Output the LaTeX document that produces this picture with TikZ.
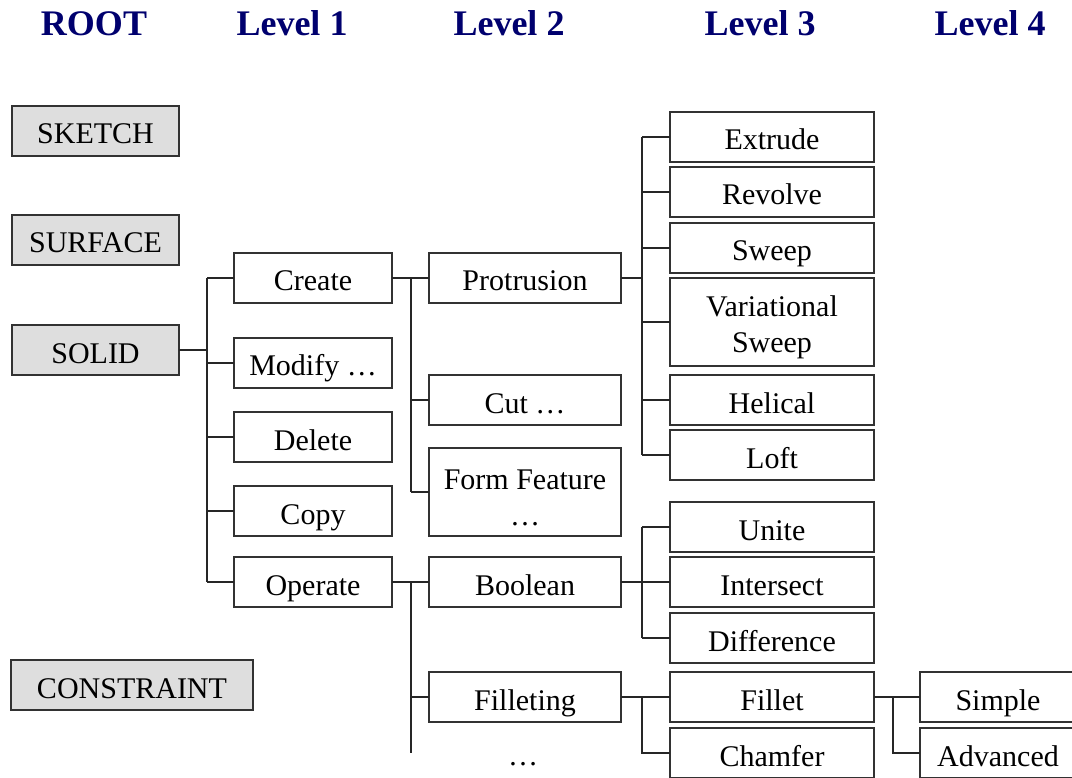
\documentclass[tikz,border=0pt]{standalone}
\usepackage{fontspec}
\setmainfont{Liberation Serif}
\definecolor{navy}{RGB}{0,0,110}
\definecolor{rootfill}{RGB}{222,222,222}
\definecolor{boxline}{RGB}{50,50,50}
\newcommand{\topstrut}{\rule{0pt}{31pt}}
\begin{document}
\begin{tikzpicture}[x=1pt,y=-1pt,
  box/.style={draw=boxline, line width=1.3pt, inner sep=0pt, outer sep=0pt,
    font=\fontsize{30}{36}\selectfont, text height=31pt, text depth=5pt,
    minimum height=50pt},
  tallbox/.style={draw=boxline, line width=1.3pt, inner sep=0pt, outer sep=0pt,
    font=\fontsize{30}{36}\selectfont, align=center, minimum height=88pt},
  rootbox/.style={box, fill=rootfill},
  lvz/.style={minimum width=167pt},
  lva/.style={minimum width=158pt},
  lvb/.style={minimum width=192pt},
  lvc/.style={minimum width=204pt},
  lvd/.style={minimum width=156pt},
  head/.style={font=\fontsize{36}{40}\selectfont\bfseries, text=navy,
    anchor=base, inner sep=0pt},
  link/.style={line width=1.3pt, draw=black!85}
]
\useasboundingbox (0,0) rectangle (1072,778);
\clip (0,0) rectangle (1072,778);

% column headings
\node[head] (hroot) at (94,36) {ROOT};
\node[head] (hone) at (292,36) {Level 1};
\node[head] (htwo) at (509,36) {Level 2};
\node[head] (hthree) at (760,36) {Level 3};
\node[head] (hfour) at (990,36) {Level 4};

% root modules
\node[rootbox, lvz] (sketch) at (95.5,131) {SKETCH};
\node[rootbox, lvz] (surface) at (95.5,240) {SURFACE};
\node[rootbox, lvz] (solid) at (95.5,350) {SOLID};
\node[rootbox, minimum width=242pt] (constraint) at (132,685) {CONSTRAINT};

% level 1
\node[box, lva] (create) at (313,278) {Create};
\node[box, lva] (modify) at (313,363) {Modify …};
\node[box, lva] (delete) at (313,437) {Delete};
\node[box, lva] (copy) at (313,511) {Copy};
\node[box, lva] (operate) at (313,582) {Operate};

% level 2
\node[box, lvb] (protrusion) at (525,278) {Protrusion};
\node[box, lvb] (cut) at (525,400) {Cut …};
\node[tallbox, lvb] (formfeature) at (525,492) {\topstrut Form Feature\\…};
\node[box, lvb] (boolean) at (525,582) {Boolean};
\node[box, lvb] (filleting) at (525,697) {Filleting};
\node[font=\fontsize{30}{36}\selectfont, anchor=base, inner sep=0pt] (more) at (523,765) {…};

% level 3
\node[box, lvc] (extrude) at (772,137) {Extrude};
\node[box, lvc] (revolve) at (772,192) {Revolve};
\node[box, lvc] (sweep) at (772,248) {Sweep};
\node[tallbox, lvc] (varsweep) at (772,322) {\topstrut Variational\\Sweep};
\node[box, lvc] (helical) at (772,400) {Helical};
\node[box, lvc] (loft) at (772,455) {Loft};
\node[box, lvc] (unite) at (772,527) {Unite};
\node[box, lvc] (intersect) at (772,582) {Intersect};
\node[box, lvc] (difference) at (772,638) {Difference};
\node[box, lvc] (fillet) at (772,697) {Fillet};
\node[box, lvc] (chamfer) at (772,753) {Chamfer};

% level 4
\node[box, lvd] (simple) at (998,697) {Simple};
\node[box, lvd] (advanced) at (998,753) {Advanced};

% trunk positions
\coordinate (ta) at (207,0);
\coordinate (tb) at (411,0);
\coordinate (tc) at (642,0);
\coordinate (td) at (893,0);
\coordinate (tbend) at (411,753);

% SOLID -> level 1
\draw[link] (solid.east) -- (solid.east -| ta);
\draw[link] (create.west -| ta) -- (operate.west -| ta);
\foreach \n in {create,modify,delete,copy,operate}
  \draw[link] (\n.west -| ta) -- (\n.west);

% Create -> level 2
\draw[link] (create.east) -- (protrusion.west);
\draw[link] (protrusion.west -| tb) -- (formfeature.west -| tb);
\foreach \n in {cut,formfeature}
  \draw[link] (\n.west -| tb) -- (\n.west);

% Protrusion -> level 3
\draw[link] (protrusion.east) -- (protrusion.east -| tc);
\draw[link] (extrude.west -| tc) -- (loft.west -| tc);
\foreach \n in {extrude,revolve,sweep,varsweep,helical,loft}
  \draw[link] (\n.west -| tc) -- (\n.west);

% Operate -> level 2
\draw[link] (operate.east) -- (boolean.west);
\draw[link] (boolean.west -| tb) -- (tbend);
\draw[link] (filleting.west -| tb) -- (filleting.west);

% Boolean -> level 3
\draw[link] (boolean.east) -- (intersect.west);
\draw[link] (unite.west -| tc) -- (difference.west -| tc);
\foreach \n in {unite,difference}
  \draw[link] (\n.west -| tc) -- (\n.west);

% Filleting -> level 3
\draw[link] (filleting.east) -- (fillet.west);
\draw[link] (fillet.west -| tc) -- (chamfer.west -| tc) -- (chamfer.west);

% Fillet -> level 4
\draw[link] (fillet.east) -- (simple.west);
\draw[link] (simple.west -| td) -- (advanced.west -| td) -- (advanced.west);
\end{tikzpicture}
\end{document}
